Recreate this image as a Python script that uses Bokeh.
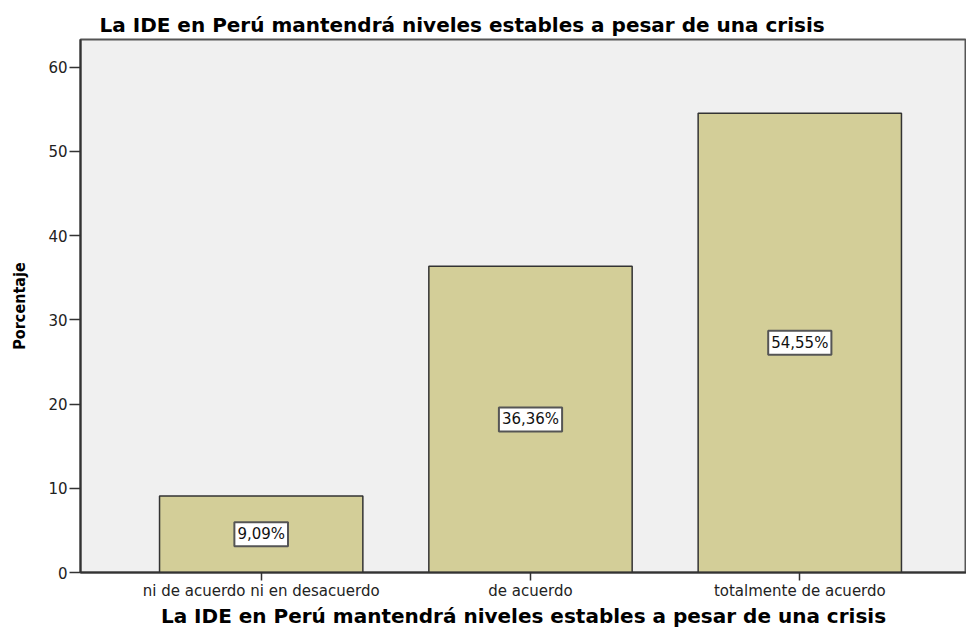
from bokeh.plotting import figure
from bokeh.models import Range1d, FixedTicker, ColumnDataSource, Label
from bokeh.embed import file_html
from bokeh.resources import INLINE

categories = ["ni de acuerdo ni en desacuerdo", "de acuerdo", "totalmente de acuerdo"]
percentages = [9.09, 36.36, 54.55]
value_labels = ["9,09%", "36,36%", "54,55%"]
y_ticks = [0, 10, 20, 30, 40, 50, 60]
title_text = "La IDE en Perú mantendrá niveles estables a pesar de una crisis"

xs = list(range(len(categories)))
src = ColumnDataSource(dict(x=xs, top=percentages))

p = figure(width=966, height=630, output_backend="svg", toolbar_location=None,
           x_range=Range1d(-0.671, 2.619), y_range=Range1d(0, 63.3),
           min_border_left=80, min_border_right=0, min_border_top=39, min_border_bottom=57)

p.title.text = title_text
p.title.text_font = "DejaVu Sans"
p.title.text_font_style = "bold"
p.title.text_font_size = "20px"
p.title.align = "left"
p.title.offset = 19
p.title.standoff = 6
p.title.text_color = "#000000"

p.background_fill_color = "#F0F0F0"
p.border_fill_color = "white"
p.outline_line_color = "#555555"
p.outline_line_width = 2
p.xgrid.visible = False
p.ygrid.visible = False

p.vbar(x="x", top="top", width=0.755, source=src, fill_color="#D3CE98",
       line_color="#333333", line_width=1.5)

for xi, v, lab in zip(xs, percentages, value_labels):
    p.add_layout(Label(x=xi, y=v / 2, text=lab, text_align="center",
                       text_baseline="middle", text_font="DejaVu Sans",
                       text_font_size="15px", text_color="#111111",
                       background_fill_color="white",
                       border_line_color="#555555", border_line_width=2,
                       padding=3))

xa = p.xaxis[0]
xa.ticker = FixedTicker(ticks=xs)
xa.major_label_overrides = {i: c for i, c in zip(xs, categories)}
xa.axis_label = title_text
xa.axis_label_text_font = "DejaVu Sans"
xa.axis_label_text_font_style = "bold"
xa.axis_label_text_font_size = "20px"
xa.axis_label_text_color = "#000000"
xa.axis_label_standoff = 1
xa.major_label_text_font = "DejaVu Sans"
xa.major_label_text_font_size = "15px"
xa.major_label_text_color = "#222222"
xa.major_label_standoff = 1
xa.major_tick_in = 0
xa.major_tick_out = 8
xa.minor_tick_line_color = None
xa.axis_line_color = "#333333"
xa.axis_line_width = 2
xa.major_tick_line_color = "#333333"
xa.major_tick_line_width = 1.5

ya = p.yaxis[0]
ya.ticker = FixedTicker(ticks=y_ticks)
ya.axis_label = "Porcentaje"
ya.axis_label_text_font = "DejaVu Sans Condensed"
ya.axis_label_text_font_style = "bold"
ya.axis_label_text_font_size = "16px"
ya.axis_label_text_color = "#000000"
ya.axis_label_standoff = 16
ya.major_label_text_font = "DejaVu Sans"
ya.major_label_text_font_size = "15px"
ya.major_label_text_color = "#222222"
ya.major_label_standoff = 2
ya.major_tick_in = 0
ya.major_tick_out = 11
ya.minor_tick_line_color = None
ya.axis_line_color = "#333333"
ya.axis_line_width = 2
ya.major_tick_line_color = "#333333"
ya.major_tick_line_width = 1.5

open("out.html", "w").write(file_html(p, INLINE))
